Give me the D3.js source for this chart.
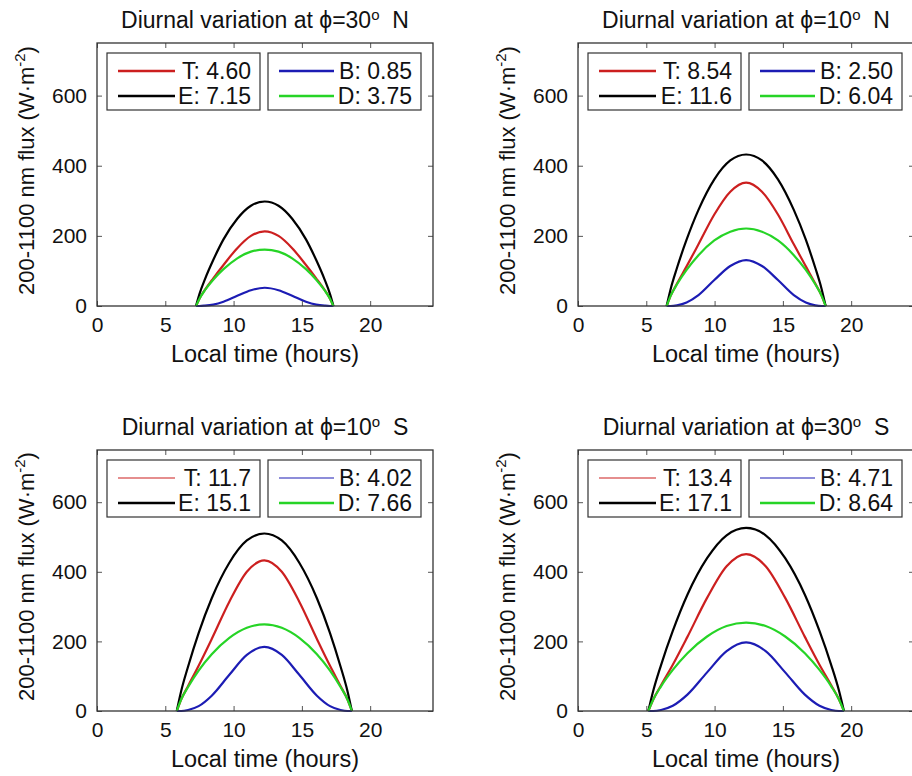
<!DOCTYPE html>
<html>
<head>
<meta charset="utf-8">
<script src="https://cdn.jsdelivr.net/npm/d3@7"></script>
<style>
  body { margin: 0; background: #fff; }
  text { font-family: "Liberation Sans", Arial, sans-serif; fill: #111; }
</style>
</head>
<body>
<script>
// tick values
var xTicks = [0, 5, 10, 15, 20];
var yTicks = [0, 200, 400, 600];

// panel titles (latitude + hemisphere)
var latitudes = ["30", "10", "10", "30"];
var hemispheres = ["N", "N", "S", "S"];

// legend numbers
var legendT = ["4.60", "8.54", "11.7", "13.4"];
var legendE = ["7.15", "11.6", "15.1", "17.1"];
var legendB = ["0.85", "2.50", "4.02", "4.71"];
var legendD = ["3.75", "6.04", "7.66", "8.64"];

// 30N
var time30N = [7.25, 7.50, 7.90, 8.51, 9.26, 10.27, 11.27, 12.28, 13.29, 14.29, 15.30, 16.05, 16.66, 17.06, 17.31];
var T30N = [0, 21, 46, 79, 117, 165, 200, 213, 200, 165, 117, 79, 46, 21, 0];
var E30N = [0, 34, 76, 131, 190, 249, 286, 298, 286, 249, 190, 131, 76, 34, 0];
var B30N = [0, 0, 1, 4, 12, 29, 45, 52, 45, 29, 12, 4, 1, 0, 0];
var D30N = [0, 21, 45, 75, 105, 136, 155, 161, 155, 136, 105, 75, 45, 21, 0];

// 10N
var time10N = [6.49, 6.78, 7.25, 7.95, 8.82, 9.98, 11.15, 12.31, 13.47, 14.64, 15.80, 16.68, 17.37, 17.84, 18.13];
var T10N = [0, 29, 64, 113, 176, 261, 326, 352, 326, 261, 176, 113, 64, 29, 0];
var E10N = [0, 48, 109, 189, 274, 361, 415, 432, 415, 361, 274, 189, 109, 48, 0];
var B10N = [0, 0, 2, 10, 31, 74, 114, 131, 114, 74, 31, 10, 2, 0, 0];
var D10N = [0, 29, 62, 103, 145, 187, 212, 221, 212, 187, 145, 103, 62, 29, 0];

// 10S
var time10S = [5.84, 6.16, 6.67, 7.44, 8.40, 9.69, 10.97, 12.25, 13.53, 14.81, 16.10, 17.06, 17.83, 18.34, 18.66];
var T10S = [0, 33, 72, 130, 207, 314, 400, 433, 400, 314, 207, 130, 72, 33, 0];
var E10S = [0, 57, 128, 224, 324, 426, 490, 510, 490, 426, 324, 224, 128, 57, 0];
var B10S = [0, 0, 3, 14, 44, 104, 161, 184, 161, 104, 44, 14, 3, 0, 0];
var D10S = [0, 33, 69, 116, 163, 210, 239, 249, 239, 210, 163, 116, 69, 33, 0];

// 30S
var time30S = [5.15, 5.51, 6.08, 6.94, 8.01, 9.45, 10.88, 12.31, 13.74, 15.17, 16.61, 17.68, 18.54, 19.11, 19.47];
var T30S = [0, 33, 74, 133, 213, 325, 416, 451, 416, 325, 213, 133, 74, 33, 0];
var E30S = [0, 58, 132, 230, 334, 439, 505, 526, 505, 439, 334, 230, 132, 58, 0];
var B30S = [0, 0, 3, 15, 47, 111, 172, 197, 172, 111, 47, 15, 3, 0, 0];
var D30S = [0, 33, 71, 118, 166, 214, 244, 254, 244, 214, 166, 118, 71, 33, 0];

var times = [time30N, time10N, time10S, time30S];
var seriesT = [T30N, T10N, T10S, T30S];
var seriesE = [E30N, E10N, E10S, E30S];
var seriesB = [B30N, B10N, B10S, B30S];
var seriesD = [D30N, D10N, D10S, D30S];

var colors = {T: "#cc1f1f", E: "#000000", B: "#1c1cb4", D: "#26d426"};

// panel placement
var lefts = [97, 578, 97, 578];
var tops = [43, 43, 450, 450];
var heights = [263, 263, 261, 261];
var width = 336;

var svg = d3.select("body").append("svg")
    .attr("width", 912)
    .attr("height", 776);

for (var i = 0; i < 4; i++) {
  var h = heights[i];
  var g = svg.append("g")
      .attr("transform", "translate(" + lefts[i] + "," + tops[i] + ")");

  var x = d3.scaleLinear().domain([0, 24.6]).range([0, width]);
  var y = d3.scaleLinear().domain([0, 750]).range([h, 0]);

  // curves, drawn in plot order
  var line = d3.line()
      .x(function(d) { return x(d[0]); })
      .y(function(d) { return y(d[1]); })
      .curve(d3.curveMonotoneX);

  var t = times[i];
  [["T", seriesT[i]], ["E", seriesE[i]], ["B", seriesB[i]], ["D", seriesD[i]]].forEach(function(s) {
    g.append("path")
      .datum(t.map(function(v, k) { return [v, s[1][k]]; }))
      .attr("d", line)
      .attr("fill", "none")
      .attr("stroke", colors[s[0]])
      .attr("stroke-width", 2.2)
      .attr("stroke-linejoin", "round");
  });

  // axes (ticks inside, MATLAB style)
  var xb = g.append("g").attr("transform", "translate(0," + h + ")")
      .call(d3.axisBottom(x).tickValues(xTicks).tickSizeInner(-5).tickSizeOuter(0).tickPadding(11));
  var xt = g.append("g")
      .call(d3.axisTop(x).tickValues(xTicks).tickSizeInner(-5).tickSizeOuter(0).tickFormat(""));
  var yl = g.append("g")
      .call(d3.axisLeft(y).tickValues(yTicks).tickSizeInner(-5).tickSizeOuter(0).tickPadding(10));
  var yr = g.append("g").attr("transform", "translate(" + width + ",0)")
      .call(d3.axisRight(y).tickValues(yTicks).tickSizeInner(-5).tickSizeOuter(0).tickFormat(""));

  [xb, xt, yl, yr].forEach(function(a) {
    a.select(".domain").remove();
    a.selectAll("line").attr("stroke", "#555");
    a.selectAll("text")
      .style("font-family", "'Liberation Sans', Arial, sans-serif")
      .style("font-size", "21px")
      .attr("fill", "#111");
  });

  g.append("rect")
    .attr("width", width).attr("height", h)
    .attr("fill", "none").attr("stroke", "#333").attr("stroke-width", 1.3);

  // title
  var title = g.append("text")
      .attr("x", width / 2).attr("y", -15)
      .attr("text-anchor", "middle")
      .style("font-size", "23px")
      .attr("xml:space", "preserve");
  title.append("tspan").text("Diurnal variation at \u03D5=" + latitudes[i]);
  title.append("tspan").attr("dy", -8).style("font-size", "15px").text("o");
  title.append("tspan").attr("dy", 8).text("  " + hemispheres[i]);

  // axis labels
  g.append("text")
    .attr("x", width / 2).attr("y", h + 56)
    .attr("text-anchor", "middle")
    .style("font-size", "23.5px")
    .text("Local time (hours)");

  var yLab = g.append("text")
      .attr("transform", "translate(-63," + (h / 2 - 4) + ") rotate(-90)")
      .attr("text-anchor", "middle")
      .style("font-size", "22px");
  yLab.append("tspan").text("200-1100 nm flux (W\u00B7m");
  yLab.append("tspan").attr("dy", -9).style("font-size", "15px").text("-2");
  yLab.append("tspan").attr("dy", 9).text(")");

  // legends
  var boxes = [
    [["T", legendT[i]], ["E", legendE[i]]],
    [["B", legendB[i]], ["D", legendD[i]]]
  ];
  var thin = i >= 2;
  boxes.forEach(function(entries, b) {
    var bx = b === 0 ? 10 : 171;
    var lg = g.append("g").attr("transform", "translate(" + bx + ",10)");
    lg.append("rect")
      .attr("width", 153).attr("height", 57)
      .attr("fill", "#fff").attr("stroke", "#333").attr("stroke-width", 1.2);
    entries.forEach(function(e, r) {
      var ry = 18 + r * 25;
      var sw = (thin && (e[0] === "T" || e[0] === "B")) ? 1.2 : 2.5;
      lg.append("line")
        .attr("x1", 11).attr("x2", b === 0 ? 68 : 66)
        .attr("y1", ry).attr("y2", ry)
        .attr("stroke", colors[e[0]]).attr("stroke-width", sw);
      lg.append("text")
        .attr("x", 144).attr("y", ry).attr("dy", "0.36em")
        .attr("text-anchor", "end")
        .style("font-size", "23px")
        .text(e[0] + ": " + e[1]);
    });
  });
}
</script>
</body>
</html>
